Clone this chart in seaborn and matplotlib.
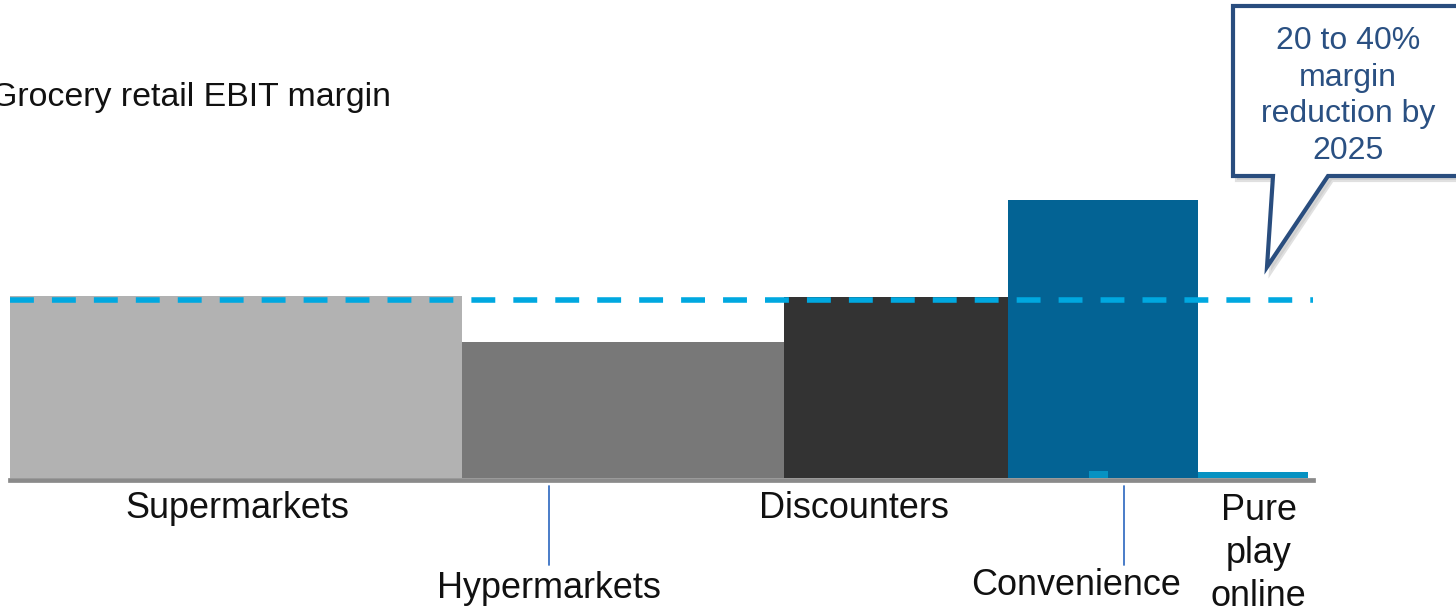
import matplotlib
matplotlib.use("Agg")
import matplotlib.pyplot as plt
import seaborn as sns
import numpy as np
from matplotlib.patches import Polygon
from matplotlib.transforms import blended_transform_factory

# ---------------- data ----------------
formats = ["Supermarkets", "Hypermarkets", "Discounters", "Convenience", "Pure\nplay\nonline"]
market_share = [34.8, 24.8, 17.3, 14.6, 8.5]          # bar widths (share, %)
ebit_margin = [2.60, 1.94, 2.59, 3.97, 0.09]          # bar heights (EBIT margin, %)
bar_colors = ["#B2B2B2", "#787878", "#333333", "#036394", "#0792C2"]
avg_margin = 2.54                                      # dashed reference line
# small online sub-segment within the convenience bar
conv_online_offset = 6.2
conv_online_share = 1.5
conv_online_margin = 0.10
# label anchors (share axis) and label baselines of last line (pixels from top)
label_x = [17.5, 41.5, 65.0, 82.1, 96.2]
label_base_px = [518, 598, 518, 595, 606]
leader_x = [None, 41.5, None, 85.8, None]
callout_text = "20 to 40%\nmargin\nreduction by\n2025"
title_text = "Grocery retail EBIT margin"

# ---------------- style ----------------
sns.set_theme(style="white")
plt.rcParams["font.family"] = ["Liberation Sans", "DejaVu Sans"]

W, H = 1456, 610
fig = plt.figure(figsize=(W / 100, H / 100), dpi=100)
px_per_unit_x = 12.98
px_per_unit_y = 70.0
ax_left_px, ax_right_px, ax_bottom_px, ax_top_px = 10, 1313, 478, 150
ax = fig.add_axes([ax_left_px / W, 1 - ax_bottom_px / H,
                   (ax_right_px - ax_left_px) / W, (ax_bottom_px - ax_top_px) / H])
ax.set_xlim(0, (ax_right_px - ax_left_px) / px_per_unit_x)
ax.set_ylim(0, (ax_bottom_px - ax_top_px) / px_per_unit_y)

lefts = np.concatenate([[0], np.cumsum(market_share)[:-1]])
ax.bar(lefts, ebit_margin, width=market_share, align="edge",
       color=bar_colors, edgecolor="none", linewidth=0, zorder=2)
ax.bar([lefts[3] + conv_online_offset], [conv_online_margin], width=[conv_online_share],
       align="edge", color="#0792C2", edgecolor="none", linewidth=0, zorder=3)

ax.axhline(avg_margin, color="#00A8E0", lw=4.0, linestyle=(0, (4.3, 3.25)), zorder=4)

sns.despine(ax=ax, left=True, top=True, right=True, bottom=False)
ax.spines["bottom"].set_color("#8A8A8A")
ax.spines["bottom"].set_linewidth(3.4)
ax.spines["bottom"].set_position(("outward", 1.6))
ax.spines["bottom"].set_zorder(5)
ax.set_xticks([])
ax.set_yticks([])
ax.grid(False)

# labels
tb = blended_transform_factory(ax.transData, fig.transFigure)
for name, lx, by, ldx in zip(formats, label_x, label_base_px, leader_x):
    ax.text(lx, 1 - by / H, name, transform=tb, ha="center", va="baseline",
            fontsize=25.9, color="#111111", linespacing=1.3, multialignment="center")
    if ldx is not None:
        ax.plot([ldx, ldx], [1 - 486 / H, 1 - 565 / H], transform=tb,
                color="#3A72C4", lw=1.3, clip_on=False, zorder=6)

# title
fig.text(-9 / W, 1 - 106 / H, title_text, ha="left", va="baseline",
         fontsize=24.4, color="#111111")

# callout bubble
pts = [(1233, 6), (1475, 6), (1475, 176), (1328, 176), (1267, 267), (1273, 176), (1233, 176)]
def to_fig(p, dx=0, dy=0):
    return ((p[0] + dx) / W, 1 - (p[1] + dy) / H)
shadow = Polygon([to_fig(p, 4, 4) for p in pts], closed=True, transform=fig.transFigure,
                 facecolor="#BBBBBB", edgecolor="#CCCCCC", lw=3, alpha=0.6, zorder=8)
bubble = Polygon([to_fig(p) for p in pts], closed=True, transform=fig.transFigure,
                 facecolor="white", edgecolor="#294D7E", lw=3.0, joinstyle="miter", zorder=9)
fig.add_artist(shadow)
fig.add_artist(bubble)
fig.text(1348 / W, 1 - 159 / H, callout_text, ha="center", va="baseline",
         fontsize=23, color="#2A5082", linespacing=1.29, multialignment="center", zorder=10)

fig.savefig("out.png", dpi=100)
